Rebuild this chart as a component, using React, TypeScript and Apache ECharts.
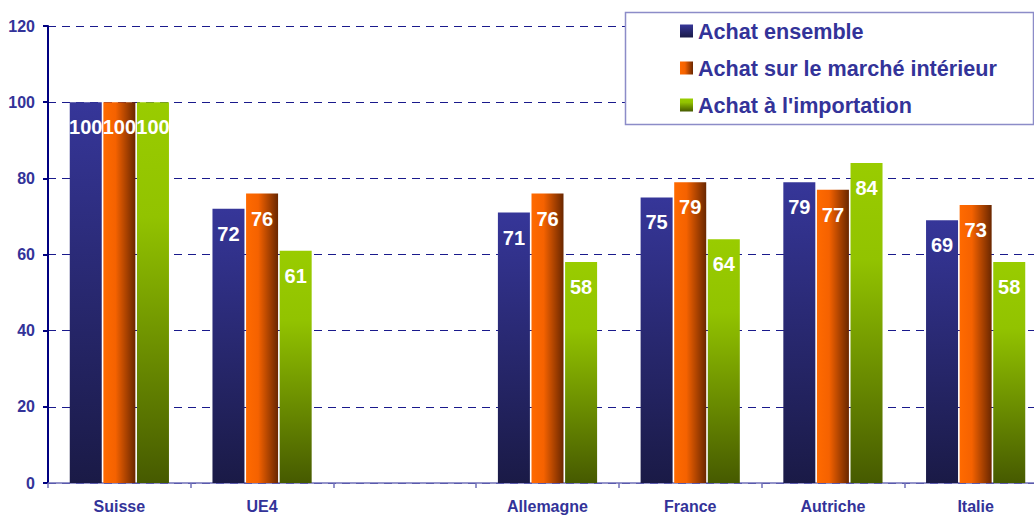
import React, { useEffect, useRef } from "react";
import * as echarts from "echarts";

const categories = ["Suisse", "UE4", "", "Allemagne", "France", "Autriche", "Italie"];
const achatEnsemble = [100, 72, null, 71, 75, 79, 69];
const achatInterieur = [100, 76, null, 76, 79, 77, 73];
const achatImport = [100, 61, null, 58, 64, 84, 58];
const yTicks = { min: 0, max: 120, interval: 20 };

const TEXT = "#333399";
const FONT = "'Liberation Sans', Arial, sans-serif";

const blueGrad = new echarts.graphic.LinearGradient(0, 0, 0, 1, [
  { offset: 0, color: "#363699" },
  { offset: 1, color: "#1a1a46" },
]);
const orangeGrad = new echarts.graphic.LinearGradient(0, 0, 1, 0, [
  { offset: 0, color: "#ff6a00" },
  { offset: 0.38, color: "#f56200" },
  { offset: 1, color: "#6a2700" },
]);
const greenGrad = new echarts.graphic.LinearGradient(0, 0, 0, 1, [
  { offset: 0, color: "#99cc00" },
  { offset: 0.3, color: "#92c300" },
  { offset: 1, color: "#465a00" },
]);

export default function App() {
  const ref = useRef<HTMLDivElement>(null);
  useEffect(() => {
    const chart = echarts.init(ref.current!, null, { renderer: "svg" });
    const label = {
      show: true,
      position: "insideTop",
      distance: 15,
      color: "#ffffff",
      fontWeight: "bold",
      fontSize: 20,
      fontFamily: FONT,
    };
    const mk = (name: string, data: (number | null)[], color: any) => ({
      name,
      type: "bar",
      data,
      barWidth: 32,
      barGap: "5%",
      itemStyle: { color },
      label,
    });
    chart.setOption({
      animation: false,
      backgroundColor: "#ffffff",
      grid: { left: 48, top: 26, bottom: 32, right: 0 },
      graphic: [
        {
          type: "rect",
          shape: { x: 625.5, y: 12.5, width: 408, height: 112 },
          style: { fill: "#ffffff", stroke: "#8c8cc8", lineWidth: 1.5 },
          z: 10,
        },
      ],
      legend: {
        orient: "vertical",
        left: 626,
        top: 12,
        padding: [7, 0, 8, 54],
        itemWidth: 13,
        itemHeight: 13,
        itemGap: 13,
        icon: "rect",
        z: 20,
        textStyle: {
          color: TEXT,
          fontWeight: "bold",
          fontSize: 21.6,
          fontFamily: FONT,
          lineHeight: 24,
        },
        data: ["Achat ensemble", "Achat sur le marché intérieur", "Achat à l'importation"],
      },
      xAxis: {
        type: "category",
        data: categories,
        axisLine: { lineStyle: { color: "#7070b8", width: 1.5 } },
        axisTick: { show: true, length: 5, lineStyle: { color: "#7070b8", width: 1.5 } },
        axisLabel: {
          color: TEXT,
          fontWeight: "bold",
          fontSize: 16,
          fontFamily: FONT,
          margin: 15,
        },
      },
      yAxis: {
        type: "value",
        min: yTicks.min,
        max: yTicks.max,
        interval: yTicks.interval,
        axisLine: { show: true, lineStyle: { color: "#000080", width: 2 } },
        axisTick: { show: true, length: 5, lineStyle: { color: "#000080", width: 2 } },
        axisLabel: {
          color: TEXT,
          fontWeight: "bold",
          fontSize: 16,
          fontFamily: FONT,
          margin: 13,
        },
        splitLine: {
          show: true,
          lineStyle: { color: "#1a1a8c", type: [8, 6], width: 1 },
        },
      },
      series: [
        mk("Achat ensemble", achatEnsemble, blueGrad),
        mk("Achat sur le marché intérieur", achatInterieur, orangeGrad),
        mk("Achat à l'importation", achatImport, greenGrad),
      ],
    });
    return () => chart.dispose();
  }, []);
  return (
    <div
      style={{
        width: 1034,
        height: 515,
        position: "absolute",
        left: 0,
        top: 0,
        overflow: "hidden",
      }}
    >
      <div ref={ref} style={{ width: 1047, height: 515 }} />
    </div>
  );
}
